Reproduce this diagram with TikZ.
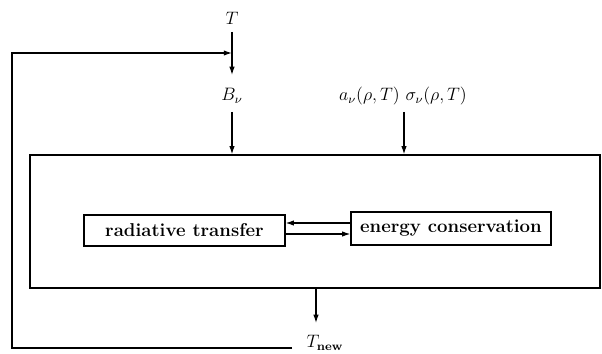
\documentclass[tikz,border=0pt]{standalone}
\usetikzlibrary{arrows.meta}
\begin{document}
\begin{tikzpicture}[x=0.6667pt,y=-0.6667pt,
  line width=0.8pt,
  arr/.style={-{Latex[length=5.5pt,width=3.6pt]}},
  blk/.style={draw,line width=0.8pt,inner sep=0pt,font=\fontsize{12.4pt}{15pt}\selectfont\bfseries},
  lbl/.style={inner sep=0pt,font=\fontsize{11.9pt}{14pt}\selectfont}]
\fill[white] (0,0) rectangle (602,354);
\useasboundingbox (0,0) rectangle (602,354);
% labels
\node[lbl] (T) at (232,18) {$T$};
\node[lbl] (Bnu) at (232,96) {$B_\nu$};
\node[lbl] (anu) at (403,96) {$a_\nu(\rho,T)\ \sigma_\nu(\rho,T)$};
\node[lbl] (Tnew) at (325,343) {$T_{\mathbf{new}}$};
% boxes
\node[draw,line width=0.8pt,minimum width=380pt,minimum height=88.7pt,inner sep=0pt] (outer) at (315,221.5) {};
\node[blk,minimum width=134pt,minimum height=20.7pt] (rad) at (184.5,230.5) {radiative transfer};
\node[blk,minimum width=133.3pt,minimum height=22pt] (en) at (451,228.5) {energy conservation};
% connector end points
\coordinate (t1) at (232,32);
\coordinate (b1) at (232,75);
\coordinate (fb) at (232,53);
\coordinate (b2) at (232,112);
\coordinate (a2) at (404,112);
\coordinate (o1) at (316,288);
\coordinate (n1) at (316,323);
\coordinate (n0) at (292,348);
% connectors
\draw[arr] (t1) -- (b1);
\draw[arr] (n0) -- (12,348) -- (12,53) -- (fb);
\draw[arr] (b2) -- (b2 |- outer.north);
\draw[arr] (a2) -- (a2 |- outer.north);
\draw[arr] (o1) -- (n1);
\draw[arr] (en.west |- 0,223) -- (rad.east |- 0,223);
\draw[arr] (rad.east |- 0,234) -- (en.west |- 0,234);
\end{tikzpicture}
\end{document}
